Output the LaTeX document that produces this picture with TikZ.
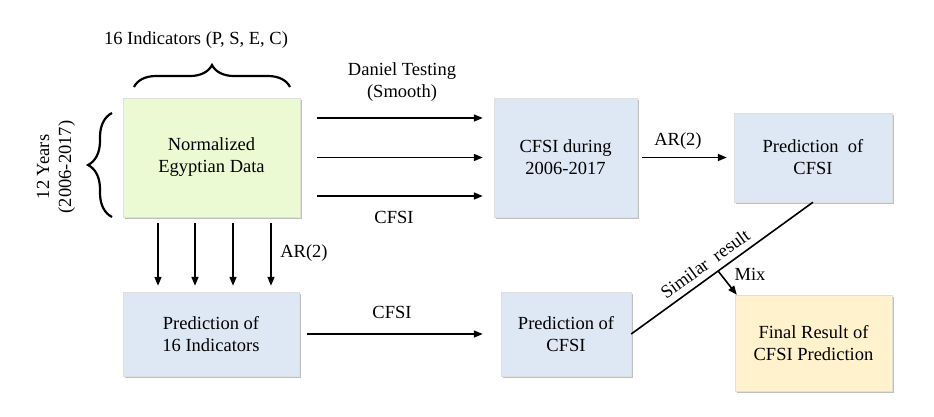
\documentclass[tikz,border=0pt]{standalone}
\usepackage{fontspec}
\setmainfont{Liberation Serif}
\usetikzlibrary{arrows.meta,decorations.pathreplacing,shadows}
\definecolor{boxblue}{HTML}{DEE8F4}
\definecolor{boxgreen}{HTML}{EBFAD2}
\definecolor{boxyellow}{HTML}{FFF2CC}
\begin{document}
\begin{tikzpicture}[x=1pt,y=-1pt,
  every node/.style={font=\fontsize{18.5}{22}\selectfont, align=center},
  box/.style={draw=gray!25, line width=0.4pt, inner sep=0pt,
    drop shadow={shadow xshift=1.5pt, shadow yshift=-1.5pt, fill=black, opacity=0.25}},
  arr/.style={line width=1.6pt, -{Triangle[length=9pt,width=7pt]}},
  ln/.style={line width=1.6pt},
  brc/.style={line width=2.2pt, decorate}
]
\useasboundingbox (0,0) rectangle (934,416);

\node[box, fill=boxgreen, minimum width=177pt, minimum height=119pt] (norm) at (211.5,157.5) {Normalized\\Egyptian Data};
\node[box, fill=boxblue, minimum width=176pt, minimum height=84pt] (pred16) at (211,334) {Prediction of\\16 Indicators};
\node[box, fill=boxblue, minimum width=143pt, minimum height=119pt] (cfsid) at (565.5,157.5) {CFSI during\\2006-2017};
\node[box, fill=boxblue, minimum width=158pt, minimum height=89pt] (predtop) at (813,157.5) {Prediction~~of\\CFSI};
\node[box, fill=boxblue, minimum width=130pt, minimum height=84pt] (predmid) at (566,334) {Prediction of\\CFSI};
\node[box, fill=boxyellow, minimum width=157pt, minimum height=96pt] (final) at (813.5,343) {Final Result of\\CFSI Prediction};

% braces
\coordinate (tbl) at (134,87);
\coordinate (tbr) at (290,87);
\draw[brc, decoration={brace, amplitude=22pt, aspect=0.5}] (tbl) -- (tbr);
\node (ind) at (196,40) {16 Indicators (P, S, E, C)};
\coordinate (lbb) at (112,217);
\coordinate (lbt) at (112,113);
\draw[brc, decoration={brace, amplitude=24pt, aspect=0.5}] (lbb) -- (lbt);
\node[rotate=90] (years) at (56,167) {12 Years\\(2006-2017)};

% three arrows to CFSI during
\draw[arr, shorten <=17pt, shorten >=11pt] ([yshift=39.5pt]norm.east) -- ([yshift=39.5pt]cfsid.west);
\draw[arr, shorten <=17pt, shorten >=11pt] (norm.east) -- (cfsid.west);
\draw[arr, shorten <=17pt, shorten >=11pt] ([yshift=-38.5pt]norm.east) -- ([yshift=-38.5pt]cfsid.west);
\node (dt) at (402,82) {Daniel Testing\\(Smooth)};
\node (c1) at (394,217) {CFSI};

% vertical arrows
\foreach \dx in {-53.5,-16.5,21.5,59.5}{
  \draw[arr, shorten <=6pt, shorten >=6pt] ([xshift=\dx pt]norm.south) -- ([xshift=\dx pt]norm.south |- pred16.north);
}
\node (ar1) at (304,253) {AR(2)};

% AR(2) to prediction top
\draw[arr, shorten <=5pt, shorten >=7pt] (cfsid.east |- predtop.west) -- (predtop.west);
\node (ar2) at (678,141) {AR(2)};

% CFSI bottom
\draw[arr, shorten <=8pt, shorten >=18pt] (pred16.east) -- (predmid.west);
\node (c2) at (392,312) {CFSI};

% similar result line
\draw[ln] (predmid.east) -- node[pos=0.45, sloped, above=3pt] (sim) {Similar~~result} coordinate[pos=0.478] (mixpt) (predtop.south);
\draw[arr] (mixpt) -- ([xshift=2pt]final.north west);
\node (mix) at (750,274) {Mix};
\end{tikzpicture}
\end{document}
